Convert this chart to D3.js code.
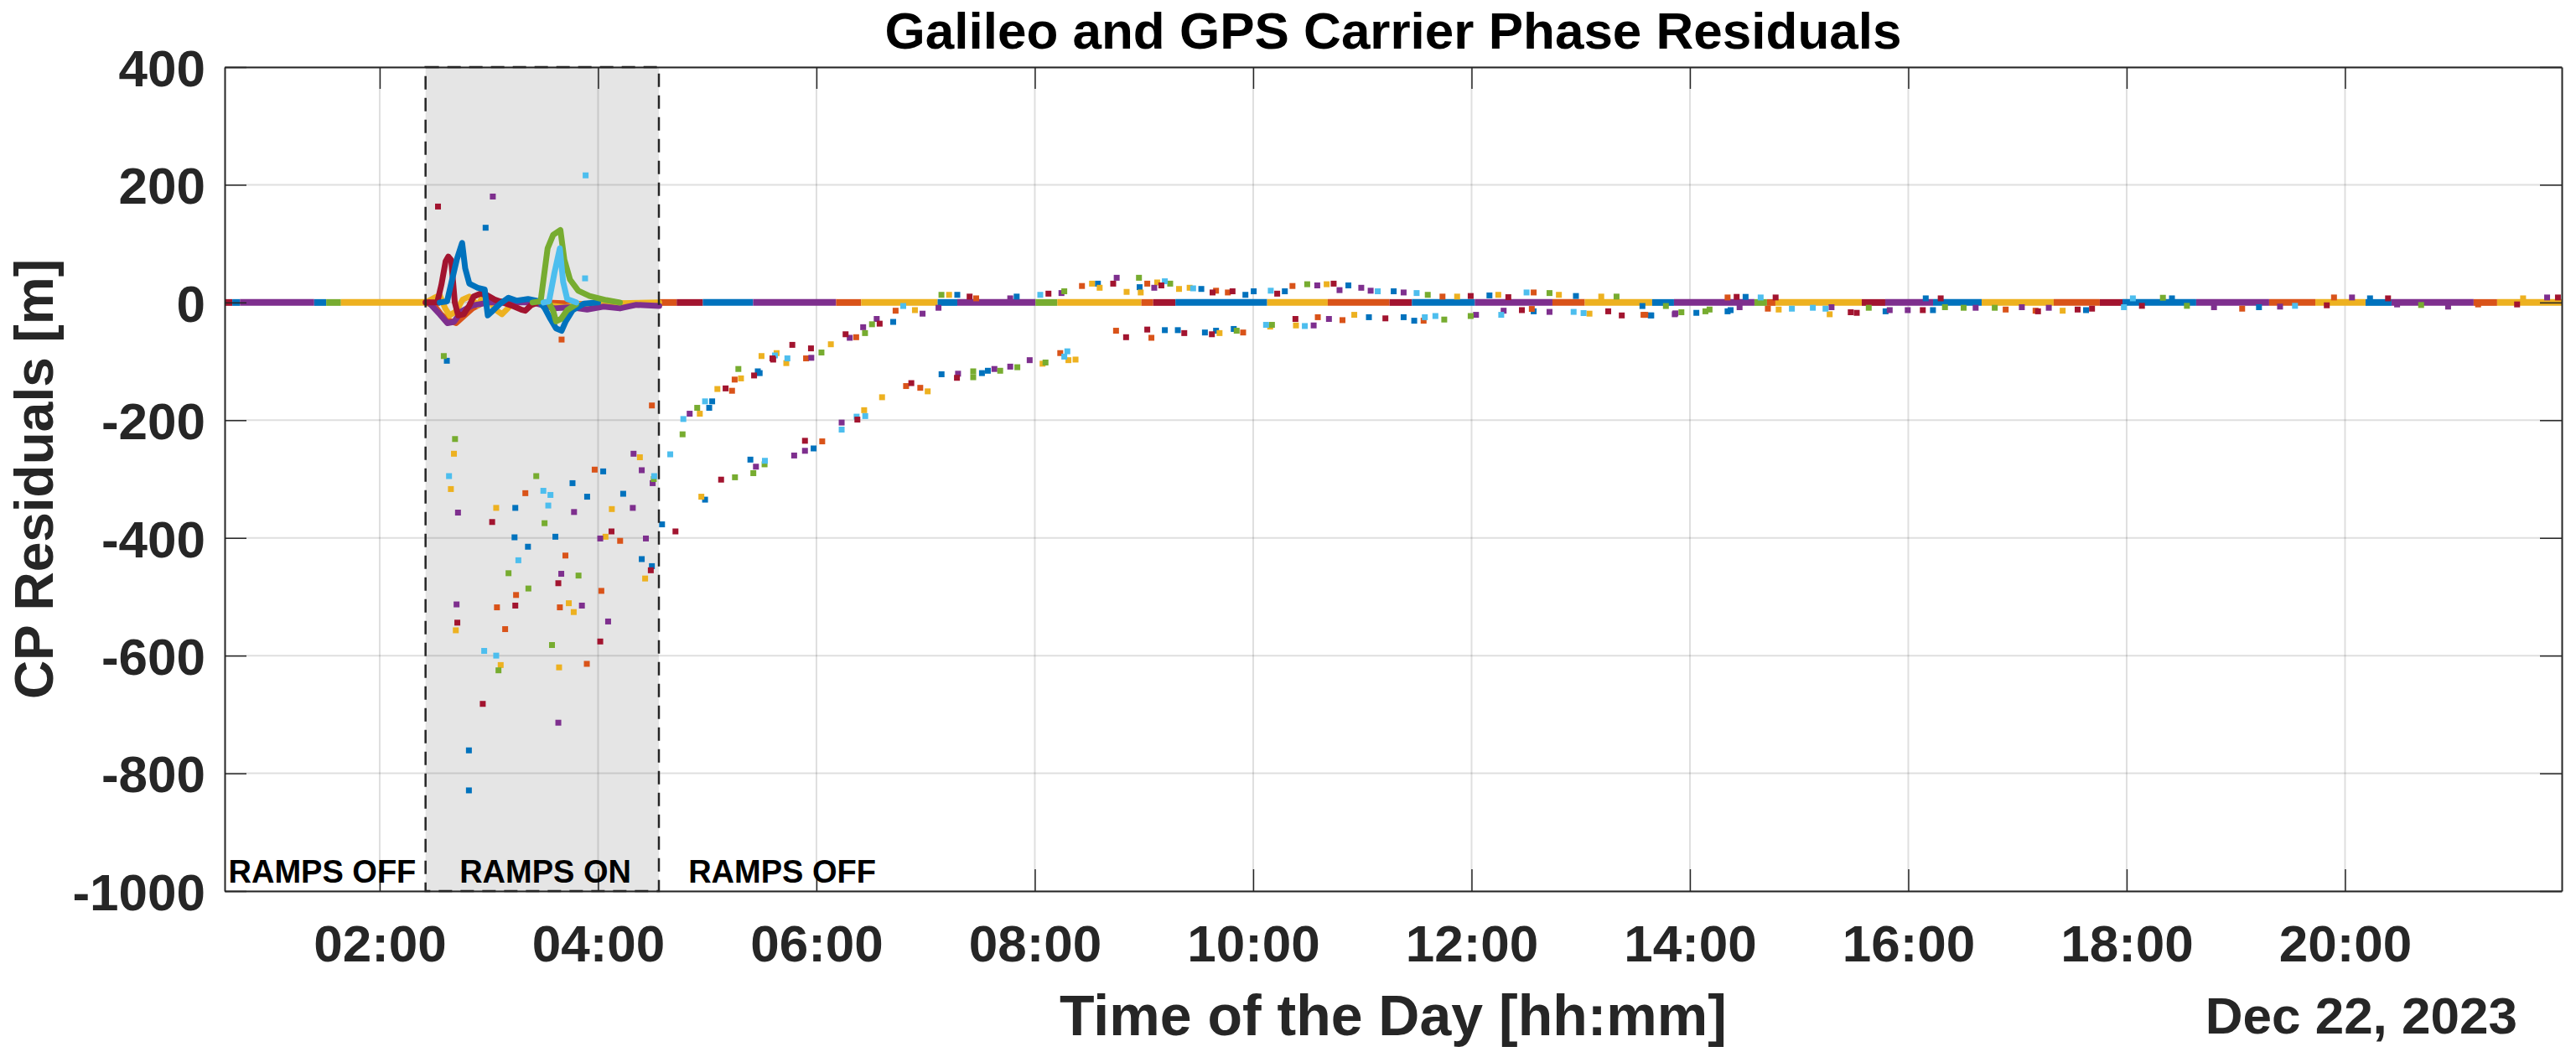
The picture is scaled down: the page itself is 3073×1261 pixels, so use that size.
<!DOCTYPE html>
<html>
<head>
<meta charset="utf-8">
<script src="https://cdn.jsdelivr.net/npm/d3@7"></script>
<style>
  html, body { margin: 0; padding: 0; background: #fff; }
  svg { display: block; }
  text { font-family: "Liberation Sans", Arial, Helvetica, sans-serif; font-weight: bold; }
</style>
</head>
<body>
<svg id="chart" width="3073" height="1261"></svg>
<script>
// ---------------- DATA ----------------
const titleText = "Galileo and GPS Carrier Phase Residuals";
const xLabelText = "Time of the Day [hh:mm]";
const yLabelText = "CP Residuals [m]";
const dateText = "Dec 22, 2023";

const xDomainHours = [0.58, 21.985];
const yDomain = [-1000, 400];
const xTickHours = [2, 4, 6, 8, 10, 12, 14, 16, 18, 20];
const yTickValues = [-1000, -800, -600, -400, -200, 0, 200, 400];

// series keys (MATLAB colour order)
const seriesKeys = ["S1", "S2", "S3", "S4", "S5", "S6", "S7"];

// ramps-on interval [start, end] in hours
const rampsOnInterval = [2.42, 4.557];
const rampLabels = [["RAMPS OFF", 1.474], ["RAMPS ON", 3.517], ["RAMPS OFF", 5.686]];

// near-zero residual band: [startHour, endHour, seriesKey]
const bandSegments = [
  [0.58,0.65,"S7"],[0.65,0.72,"S1"],[0.72,1.40,"S4"],[1.40,1.51,"S1"],[1.51,1.645,"S5"],[1.645,2.42,"S3"],
  [2.42,2.55,"S2"],
  [4.555,4.72,"S2"],[4.72,4.96,"S7"],[4.96,5.42,"S1"],[5.42,6.18,"S4"],[6.18,6.41,"S2"],[6.41,7.11,"S3"],
  [7.11,7.29,"S1"],[7.29,8.006,"S4"],[8.006,8.206,"S5"],[8.206,8.976,"S3"],[8.976,9.084,"S2"],[9.084,9.288,"S7"],
  [9.288,10.128,"S1"],[10.128,10.683,"S3"],[10.683,11.249,"S2"],[11.249,11.454,"S7"],[11.454,12.03,"S1"],
  [12.03,12.741,"S4"],[12.741,13.037,"S2"],[13.037,13.654,"S3"],[13.654,13.854,"S1"],[13.854,14.591,"S4"],
  [14.591,14.706,"S5"],[14.706,14.783,"S2"],[14.783,15.574,"S3"],[15.574,15.789,"S7"],[15.789,16.227,"S4"],
  [16.227,16.672,"S1"],[16.672,17.332,"S3"],[17.332,17.754,"S2"],[17.754,17.962,"S7"],[17.962,18.637,"S1"],
  [18.637,19.305,"S4"],[19.305,19.728,"S2"],[19.728,20.188,"S3"],[20.188,20.426,"S1"],[20.426,21.178,"S4"],
  [21.178,21.393,"S2"],[21.393,21.985,"S3"]
];

// transient residual lines during ramps [hour, value]
const lineS2 = [[2.42,0],[2.5,-5],[2.56,-20],[2.62,-30],[2.7,-35],[2.76,-25],[2.85,-10],[2.95,0],[3.1,2],[3.5,0],[3.9,-3],[4.1,2],[4.3,-4],[4.56,-3]];
const lineS3 = [[2.42,0],[2.5,8],[2.55,12],[2.6,-10],[2.64,-22],[2.7,-15],[2.76,5],[2.82,10],[2.9,-5],[2.95,12],[3.0,5],[3.06,-12],[3.12,-20],[3.2,-5],[3.3,2],[3.45,0],[3.55,-5],[3.7,-8],[3.85,-3],[4.0,-2],[4.56,0]];
const lineS4 = [[2.45,0],[2.55,-20],[2.62,-35],[2.68,-33],[2.75,-15],[2.85,-5],[3.0,0],[3.4,0],[3.6,-10],[3.75,-8],[3.9,-12],[4.05,-7],[4.2,-10],[4.35,-4],[4.56,-6]];
const lineS7 = [[2.42,0],[2.527,0],[2.565,30],[2.604,70],[2.628,78],[2.655,72],[2.688,0],[2.719,-22],[2.77,-20],[2.821,-5],[2.86,10],[2.924,15],[2.988,12],[3.052,5],[3.128,0],[3.205,-5],[3.295,-12],[3.333,-14],[3.384,-5],[3.45,0]];
const lineS1 = [[2.55,0],[2.617,2],[2.706,73],[2.755,101],[2.783,58],[2.821,32],[2.898,25],[2.962,22],[2.975,0],[2.99,-22],[3.03,-15],[3.103,-2],[3.18,8],[3.256,3],[3.359,6],[3.461,2],[3.512,-10],[3.564,-28],[3.615,-44],[3.666,-48],[3.704,-32],[3.768,-13],[3.87,-2],[4.0,0]];
const lineS5a = [[3.4,0],[3.474,2],[3.538,92],[3.589,115],[3.655,123],[3.691,73],[3.743,39],[3.819,20],[3.922,11],[4.075,4],[4.2,0]];
const lineS5b = [[3.55,0],[3.59,-15],[3.615,-32],[3.66,-28],[3.717,-13],[3.8,-3]];
const lineS6 = [[3.5,0],[3.551,2],[3.6,50],[3.65,92],[3.68,35],[3.717,6],[3.8,0]];

// scattered residual samples per series [hour, value]
const pointsS1 = [
  [2.615,-99],[3.242,-349],[3.235,-399],[3.358,-415],[2.817,-761],[2.817,-829],[3.609,-398],[3.766,-307],[3.9,-330],
  [4.047,-287],[4.23,-325],[4.4,-436],[4.493,-448],[2.97,127],
  [4.586,-377],[5.045,-168],[5.018,-179],[5.463,-117],[5.48,-120],[6.703,-33],[7.29,13],[7.834,10],[8.578,32],[8.96,26],
  [9.525,23],[9.929,13],[10.005,19],[10.29,19],[10.872,29],[11.287,19],[12.164,12],[12.956,11],[13.565,-6],
  [4.98,-335],[5.395,-267],[5.974,-248],[7.146,-122],[7.516,-120],[7.57,-116],
  [9.191,-47],[9.31,-47],[9.558,-51],[9.66,-48],[9.822,-45],[11.06,-25],[11.378,-25],[11.475,-31],[12.569,-15],[13.646,-22],
  [13.641,-22],[14.059,-17.6],[14.345,-15],[14.373,-13],[15.792,-15],[16.226,-13],[17.628,-13],[19.212,-8],[14.51,9.5],
  [16.16,7],[18.415,7],[20.229,7]
];
const pointsS2 = [
  [3.666,-63],[4.493,-175],[3.334,-324],[3.249,-497],[3.074,-518],[3.149,-555],[3.897,-614],[4.03,-490],[3.65,-518],
  [3.701,-430],[3.969,-284],[4.202,-405],
  [5.227,-150],[5.251,-131],[5.905,-95],[6.364,-59],[6.725,-14],[7.463,7],[8.432,28],[9.03,32],[9.66,20],[9.768,17],
  [10.36,28],[11.734,10],[12.569,17],
  [6.053,-236],[6.821,-142],[6.951,-145],[8.233,-86],
  [8.744,-48],[9.068,-60],[9.908,-51],[10.592,-25],[10.818,-30],[11.561,-31],[12.552,-11],[13.592,-21],
  [13.575,-21],[14.714,-10.5],[16.892,-12],[17.166,-14],[19.058,-10.5],[21.219,-3.3],[14.345,8.5],[19.899,8.5]
];
const pointsS3 = [
  [2.68,-257],[2.652,-317],[3.067,-349],[2.697,-557],[3.108,-616],[3.643,-620],[3.777,-526],[3.732,-511],[4.126,-351],
  [4.068,-398],[4.383,-263],[4.431,-469],
  [4.932,-189],[5.093,-147],[5.309,-129],[5.635,-86],[5.724,-103],[5.497,-91],[6.132,-71],[6.902,-13],[7.215,13],
  [8.524,32],[8.594,25],[8.841,18],[8.97,17],[9.121,34],[9.321,23],[9.418,25],[10.673,31],[11.868,10],[12.245,13],
  [12.8,13],[13.188,10],
  [4.946,-330],[6.437,-183],[6.601,-161],[7.019,-151],[8.071,-104],[8.373,-97],[8.308,-98],
  [9.692,-52],[10.156,-41],[10.392,-39],[10.926,-21],[13.08,-19],
  [14.813,-12],[15.28,-20],[17.414,-14],[21.631,7]
];
const pointsS4 = [
  [2.717,-357],[2.704,-513],[3.636,-714],[4.092,-542],[3.852,-515],[3.663,-461],[3.78,-356],[4.02,-401],[4.318,-349],
  [4.325,-257],[4.4,-285],[4.5,-307],[4.438,-401],[3.036,180],
  [4.839,-189],[5.953,-94],[6.305,-60],[6.428,-42],[6.552,-28],[6.972,-19],[7.118,-9],[7.775,7],[8.244,16],[8.75,42],
  [9.094,25],[10.587,29],[10.791,21],[10.99,25],[11.076,20],[11.378,17],
  [5.446,-279],[5.796,-260],[5.895,-252],[6.231,-204],[7.297,-121],[7.63,-113],[7.775,-109],[7.953,-98],
  [10.554,-39],[10.694,-28],[12.041,-21],[12.294,-14],[12.714,-16],[13.861,-20],
  [13.867,-18.5],[14.455,-8],[15.297,-8],[15.83,-13],[15.995,-13],[16.617,-9],[17.04,-8],[17.287,-9],[18.8,-8],
  [19.405,-7],[20.477,-3.3],[20.944,-7],[20.064,8.5],[21.851,8.5]
];
const pointsS5 = [
  [2.587,-91],[2.69,-232],[3.18,-460],[3.362,-486],[3.088,-625],[3.578,-582],[3.821,-464],[3.51,-375],[3.434,-295],[4.51,-300],
  [4.774,-224],[4.908,-179],[5.285,-113],[6.046,-85],[6.445,-52],[6.509,-37],[7.145,13],[8.27,19],[8.954,42],[9.24,32],
  [10.495,31],[11.599,13],[12.714,16],[13.328,10],[13.78,-6],
  [5.254,-297],[5.422,-290],[5.525,-275],[7.436,-117],[7.436,-127],[7.683,-116],[7.84,-110],[8.098,-102],
  [9.849,-48],[10.172,-38],[11.75,-29],[11.992,-23],
  [13.922,-16.6],[14.142,-15],[14.18,-12],[15.638,-9],[16.336,-8],[16.507,-9],[16.792,-9],[18.552,-5.7],[20.697,-4.3],[18.332,8]
];
const pointsS6 = [
  [2.635,-295],[3.27,-438],[2.957,-592],[3.067,-600],[3.544,-345],[3.564,-327],[3.499,-320],[4.514,-295],[3.886,216],[3.881,41],
  [4.661,-258],[4.781,-198],[4.98,-168],[5.734,-95],[5.62,-90],[6.795,-6],[8.05,13],[9.191,36],[9.45,24],[10.161,20],
  [11.141,19],[11.497,16],[12.504,17],
  [5.528,-269],[6.231,-216],[6.368,-194],[6.447,-193],[8.298,-83],[8.27,-92],
  [10.118,-38],[10.473,-40],[11.572,-25],[11.669,-23],[12.272,-21],[12.935,-16],[13.026,-18],
  [14.934,-10.5],[15.126,-9],[15.242,-10.5],[17.975,-8],[19.542,-5.7],[14.648,8.5],[18.057,7]
];
const pointsS7 = [
  [3.03,-373],[3.242,-515],[2.711,-544],[2.944,-682],[4.02,-576],[3.636,-477],[4.123,-389],[4.483,-455],[2.534,163],
  [4.709,-389],[5.168,-146],[5.429,-124],[5.597,-95],[5.779,-72],[5.95,-78],[5.604,-97],[6.267,-54],[6.579,-36],[7.403,10],
  [8.125,15],[8.718,32],[9.159,29],[9.628,17],[9.811,19],[10.22,15],[10.737,32],[11.992,11],[12.337,9],
  [5.127,-301],[5.895,-235],[6.375,-199],[6.869,-137],[7.287,-128],
  [8.836,-59],[9.03,-46],[9.369,-52],[9.622,-54],[10.387,-28],[11.211,-27],[12.461,-13],[13.252,-15],[13.376,-22],
  [15.473,-16.6],[15.528,-17.6],[16.133,-13],[17.188,-15],[17.551,-12],[17.683,-10.5],[18.14,-5.7],[19.833,-4.8],
  [21.576,-3.3],[14.428,9.5],[14.785,8.5],[16.297,7],[20.394,7],[21.95,8.5]
];

// ---------------- DRAWING ----------------
const W = 3073, H = 1261;
const plot = { left: 268, right: 3056, top: 80, bottom: 1063 };
const axisColor = "#262626";
const palette = ["#0072BD", "#D95319", "#EDB120", "#7E2F8E", "#77AC30", "#4DBEEE", "#A2142F"];
const color = d3.scaleOrdinal().domain(seriesKeys).range(palette);

const svg = d3.select("#chart");
svg.append("rect").attr("width", W).attr("height", H).attr("fill", "#fff");

const x = d3.scaleLinear().domain(xDomainHours).range([plot.left, plot.right]);
const y = d3.scaleLinear().domain(yDomain).range([plot.bottom, plot.top]);

const clipId = "plotclip";
svg.append("clipPath").attr("id", clipId).append("rect")
  .attr("x", plot.left).attr("y", plot.top)
  .attr("width", plot.right - plot.left).attr("height", plot.bottom - plot.top);

// shaded ramps-on region
svg.append("rect")
  .attr("x", x(rampsOnInterval[0])).attr("y", y(yDomain[1]))
  .attr("width", x(rampsOnInterval[1]) - x(rampsOnInterval[0]))
  .attr("height", y(yDomain[0]) - y(yDomain[1]))
  .attr("fill", "#e5e5e5");

// grid
const grid = svg.append("g").attr("stroke", "rgba(38,38,38,0.15)").attr("stroke-width", 2);
grid.selectAll("line.gx").data(xTickHours).join("line")
  .attr("x1", d => x(d)).attr("x2", d => x(d)).attr("y1", plot.top).attr("y2", plot.bottom);
grid.selectAll("line.gy").data(yTickValues).join("line")
  .attr("y1", d => y(d)).attr("y2", d => y(d)).attr("x1", plot.left).attr("x2", plot.right);

const data = svg.append("g").attr("clip-path", `url(#${clipId})`);

// band
data.selectAll("line.band").data(bandSegments).join("line")
  .attr("x1", d => x(d[0])).attr("x2", d => x(d[1]))
  .attr("y1", y(0)).attr("y2", y(0))
  .attr("stroke", d => color(d[2])).attr("stroke-width", 8);

// ramp lines
const lineGen = d3.line().x(d => x(d[0])).y(d => y(d[1]));
const rampLines = [
  ["S2", lineS2], ["S3", lineS3], ["S4", lineS4], ["S7", lineS7],
  ["S1", lineS1], ["S5", lineS5b], ["S5", lineS5a], ["S6", lineS6]
];
data.selectAll("path.ramp").data(rampLines).join("path")
  .attr("d", d => lineGen(d[1]))
  .attr("fill", "none").attr("stroke", d => color(d[0]))
  .attr("stroke-width", 7).attr("stroke-linejoin", "round").attr("stroke-linecap", "round");

// scatter points
const pointSets = [
  ["S1", pointsS1], ["S2", pointsS2], ["S3", pointsS3], ["S4", pointsS4],
  ["S5", pointsS5], ["S6", pointsS6], ["S7", pointsS7]
];
const ms = 7;
pointSets.forEach(([key, pts]) => {
  data.append("g").selectAll("rect").data(pts).join("rect")
    .attr("x", d => x(d[0]) - ms / 2).attr("y", d => y(d[1]) - ms / 2)
    .attr("width", ms).attr("height", ms)
    .attr("fill", color(key));
});

// dashed border of ramps-on region
svg.append("rect")
  .attr("x", x(rampsOnInterval[0])).attr("y", y(yDomain[1]))
  .attr("width", x(rampsOnInterval[1]) - x(rampsOnInterval[0]))
  .attr("height", y(yDomain[0]) - y(yDomain[1]))
  .attr("fill", "none").attr("stroke", "#262626").attr("stroke-width", 2.5)
  .attr("stroke-dasharray", "16,10");

// axes
const fmt = h => String(h).padStart(2, "0") + ":00";
const tickLen = 26;
function styleAxis(g) {
  g.select(".domain").attr("stroke", axisColor).attr("stroke-width", 2);
  g.selectAll(".tick line").attr("stroke", axisColor).attr("stroke-width", 1.5);
  g.selectAll(".tick text").attr("fill", axisColor)
    .style("font-size", "62px").style("font-family", '"Liberation Sans", Arial, sans-serif').style("font-weight", "bold");
}
svg.append("g").attr("transform", `translate(0,${plot.bottom})`)
  .call(d3.axisBottom(x).tickValues(xTickHours).tickFormat(fmt).tickSizeInner(-tickLen).tickSizeOuter(0).tickPadding(40))
  .call(styleAxis);
svg.append("g").attr("transform", `translate(0,${plot.top})`)
  .call(d3.axisTop(x).tickValues(xTickHours).tickFormat("").tickSizeInner(-tickLen).tickSizeOuter(0))
  .call(styleAxis);
svg.append("g").attr("transform", `translate(${plot.left},0)`)
  .call(d3.axisLeft(y).tickValues(yTickValues).tickFormat(d => String(d)).tickSizeInner(-tickLen).tickSizeOuter(0).tickPadding(23))
  .call(styleAxis)
  .call(g => g.selectAll(".tick text").attr("dy", "0.36em"));
svg.append("g").attr("transform", `translate(${plot.right},0)`)
  .call(d3.axisRight(y).tickValues(yTickValues).tickFormat("").tickSizeInner(-tickLen).tickSizeOuter(0))
  .call(styleAxis);

// ramp labels
svg.selectAll("text.ramp").data(rampLabels).join("text")
  .attr("x", d => x(d[1])).attr("y", 1053)
  .attr("text-anchor", "middle").attr("fill", "#000")
  .style("font-size", "38px").text(d => d[0]);

// title & labels
svg.append("text").attr("x", (plot.left + plot.right) / 2).attr("y", 58)
  .attr("text-anchor", "middle").attr("fill", "#000").style("font-size", "62px").text(titleText);
svg.append("text").attr("x", (plot.left + plot.right) / 2).attr("y", 1235)
  .attr("text-anchor", "middle").attr("fill", axisColor).style("font-size", "68px").text(xLabelText);
svg.append("text").attr("transform", `translate(63,${(plot.top + plot.bottom) / 2}) rotate(-90)`)
  .attr("text-anchor", "middle").attr("fill", axisColor).style("font-size", "64px").text(yLabelText);
svg.append("text").attr("x", 3003).attr("y", 1233)
  .attr("text-anchor", "end").attr("fill", axisColor).style("font-size", "62px").text(dateText);
</script>
</body>
</html>
